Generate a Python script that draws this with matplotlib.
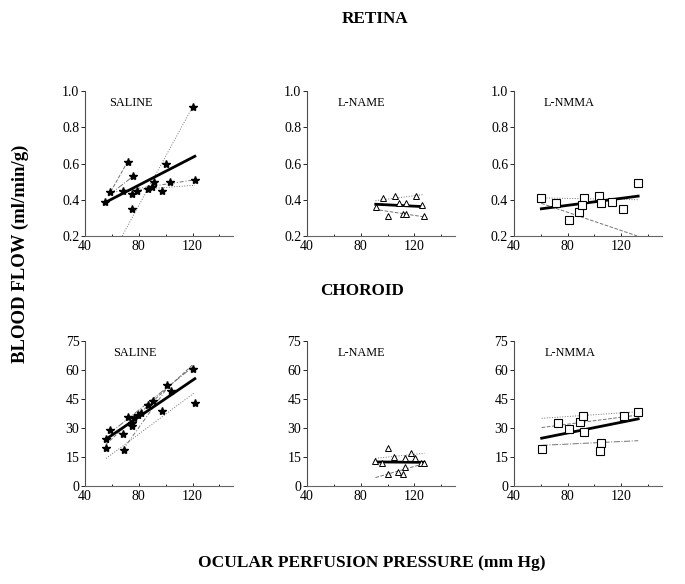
import matplotlib.pyplot as plt
from matplotlib.ticker import MultipleLocator

plt.rcParams['font.family'] = 'Liberation Serif'

# ---- retina, saline ----
ret_sal_x = [55, 59, 72, 68, 76, 75, 75, 79, 87, 90, 91, 100, 97.5, 103, 120, 121.7]
ret_sal_y = [0.39, 0.44, 0.61, 0.45, 0.53, 0.43, 0.35, 0.45, 0.46, 0.47, 0.50, 0.60, 0.45, 0.50, 0.91, 0.51]
ret_sal_fit = [55.4, 121.7, 0.386, 0.64]
ret_sal_ind = [[67.7, 119.8, 0.20, 0.91], [57.3, 71.7, 0.42, 0.61],
               [58.6, 75.9, 0.43, 0.53], [59, 121.7, 0.44, 0.51], [68, 121.7, 0.45, 0.48]]

# ---- retina, L-NAME ----
ret_name_x = [91.7, 96.6, 100.3, 105.7, 108.4, 111.4, 113.8, 113.4, 121.2, 125.4, 127.4]
ret_name_y = [0.358, 0.408, 0.31, 0.419, 0.384, 0.32, 0.384, 0.32, 0.419, 0.371, 0.31]
ret_name_fit = [91.2, 126.2, 0.375, 0.362]
ret_name_ind = [[91, 126, 0.395, 0.428], [94, 127.4, 0.343, 0.305]]

# ---- retina, L-NMMA ----
ret_nmma_x = [60.5, 71.75, 81, 88.75, 92, 90.75, 103.75, 105, 113, 121.25, 132.5]
ret_nmma_y = [0.41, 0.38, 0.29, 0.33, 0.41, 0.37, 0.42, 0.38, 0.39, 0.35, 0.49]
ret_nmma_fit = [60.5, 132.5, 0.35, 0.42]
ret_nmma_ind = [[60.5, 132.5, 0.41, 0.40], [60.5, 131.75, 0.38, 0.20]]

# ---- choroid, saline ----
cho_sal_x = [55.7, 55.7, 58.9, 68.8, 68, 72, 75, 75, 76.7, 79.4, 81.8, 87.2, 90.9, 97.6, 100.8, 103.7, 120, 121.7]
cho_sal_y = [24.5, 19.7, 28.9, 18.8, 27, 35.8, 31, 32.7, 34.9, 36.8, 37.8, 41.8, 43.9, 39, 52, 49.3, 60.3, 43]
cho_sal_fit = [55.7, 121.7, 24.2, 55.5]
cho_sal_ind = [[55.7, 121.7, 14.2, 48.4], [55.7, 120.4, 21.6, 62.9],
               [58.9, 120.4, 27.5, 61.7], [68, 103.2, 18.5, 52.7]]

# ---- choroid, L-NAME ----
cho_name_x = [90.9, 95.9, 100.1, 100.6, 105.1, 108.1, 111.3, 113, 113.3, 117.5, 120.7, 125, 127]
cho_name_y = [12.8, 11.6, 6.4, 19.5, 15.2, 7.2, 6.4, 14.5, 9.7, 16.9, 14.5, 11.6, 11.6]
cho_name_fit = [90.9, 127, 12.4, 12.2]
cho_name_ind = [[91, 127.5, 14.3, 16.9], [91, 127.5, 4.3, 11.6]]

# ---- choroid, L-NMMA ----
cho_nmma_x = [60.75, 73, 80.75, 89, 91.25, 92, 105, 104.25, 121.75, 132.5]
cho_nmma_y = [19.3, 32.4, 29.5, 33.3, 36.2, 28.1, 22.4, 18.3, 36.2, 38.3]
cho_nmma_fit = [60.75, 132.5, 24.7, 34.7]
cho_nmma_ind = [[60.75, 132.5, 35, 38.4], [60.75, 132.5, 30.2, 36.7], [60.75, 132.5, 21, 23.4]]

groups = ['SALINE', 'L-NAME', 'L-NMMA']

fig = plt.figure(figsize=(6.85, 5.84), dpi=100)

lefts = [0.124, 0.448, 0.750]
bottoms = [0.596, 0.168]
w, h = 0.216, 0.248
label_x = [[0.165, 0.21, 0.20], [0.19, 0.21, 0.21]]
styles = [':', '--', '-.', (0, (4, 2, 1, 2)), ':']

panels = [
    [(ret_sal_x, ret_sal_y, ret_sal_fit, ret_sal_ind),
     (ret_name_x, ret_name_y, ret_name_fit, ret_name_ind),
     (ret_nmma_x, ret_nmma_y, ret_nmma_fit, ret_nmma_ind)],
    [(cho_sal_x, cho_sal_y, cho_sal_fit, cho_sal_ind),
     (cho_name_x, cho_name_y, cho_name_fit, cho_name_ind),
     (cho_nmma_x, cho_nmma_y, cho_nmma_fit, cho_nmma_ind)],
]

for r in range(2):
    for c in range(3):
        ax = fig.add_axes([lefts[c], bottoms[r], w, h])
        xs, ys, fit, ind = panels[r][c]
        for k, seg in enumerate(ind):
            ax.plot(seg[:2], seg[2:], color='0.45', lw=0.7, ls=styles[k % len(styles)])
        ax.plot(fit[:2], fit[2:], color='black', lw=2)
        if c == 0:
            ax.plot(xs, ys, ls='none', marker='*', ms=6, color='black')
        elif c == 1:
            ax.plot(xs, ys, ls='none', marker='^', ms=5, mfc='white', mec='black', mew=0.7)
        else:
            ax.plot(xs, ys, ls='none', marker='s', ms=5.5, mfc='white', mec='black', mew=0.8)
        ax.set_xlim(40, 150)
        if r == 0:
            ax.set_ylim(0.2, 1.0)
            ax.yaxis.set_major_locator(MultipleLocator(0.2))
            ax.yaxis.set_major_formatter(plt.FormatStrFormatter('%.1f'))
        else:
            ax.set_ylim(0, 75)
            ax.yaxis.set_major_locator(MultipleLocator(15))
        ax.set_xticks([40, 80, 120])
        ax.xaxis.set_minor_locator(MultipleLocator(20))
        ax.spines['top'].set_visible(False)
        ax.spines['right'].set_visible(False)
        ax.spines['bottom'].set_color('0.4')
        ax.spines['left'].set_color('0.3')
        ax.tick_params(axis='y', direction='out', length=3, width=0.6, labelsize=10, pad=1)
        ax.tick_params(axis='x', direction='in', length=2, width=0.6, labelsize=10, pad=3)
        ax.tick_params(axis='x', which='minor', direction='in', length=1.5, width=0.6)
        ax.text(label_x[r][c], 0.915, groups[c], transform=ax.transAxes,
                fontsize=8.8, va='center', ha='left')

fig.text(0.548, 0.967, 'RETINA', fontsize=12.3, fontweight='bold', ha='center', va='center')
fig.text(0.528, 0.502, 'CHOROID', fontsize=12.3, fontweight='bold', ha='center', va='center')
fig.text(0.030, 0.565, 'BLOOD FLOW (ml/min/g)', fontsize=13.5, fontweight='bold',
         rotation=90, ha='center', va='center')
fig.text(0.543, 0.036, 'OCULAR PERFUSION PRESSURE (mm Hg)', fontsize=12.5,
         fontweight='bold', ha='center', va='center')

fig.savefig('out.png', dpi=100)
